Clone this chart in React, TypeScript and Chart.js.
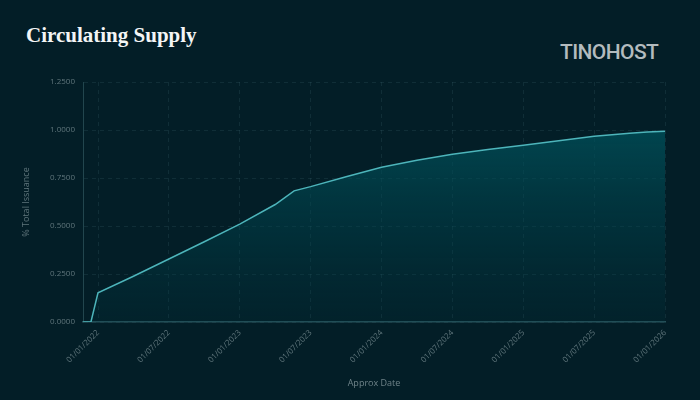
import React, { useEffect, useRef } from "react";
import { Chart, registerables } from "chart.js";

Chart.register(...registerables);

// months since 01/01/2022
const MONTHS = [-1.27, -0.6, 0, 3, 6, 9, 12, 15, 16.6, 18, 21, 24, 27, 30, 33, 36, 39, 42, 45, 46.5, 48];
const SUPPLY = [0, 0, 0.152, 0.238, 0.328, 0.418, 0.51, 0.612, 0.683, 0.705, 0.757, 0.806, 0.842, 0.874, 0.898, 0.921, 0.944, 0.967, 0.983, 0.99, 0.993];

const TICK_MONTHS = [0, 6, 12, 18, 24, 30, 36, 42, 48];
const TICK_LABELS = [
  "01/01/2022",
  "01/07/2022",
  "01/01/2023",
  "01/07/2023",
  "01/01/2024",
  "01/07/2024",
  "01/01/2025",
  "01/07/2025",
  "01/01/2026",
];
const Y_TICKS = [0, 0.25, 0.5, 0.75, 1.0, 1.25];

const BG = "#031e27";

export default function App() {
  const ref = useRef<HTMLCanvasElement | null>(null);

  useEffect(() => {
    if (!ref.current) return;
    const chart = new Chart(ref.current, {
      type: "line",
      data: {
        datasets: [
          {
            label: "% Total Issuance",
            data: MONTHS.map((m, i) => ({ x: m, y: SUPPLY[i] })),
            borderColor: "#4db5bb",
            borderWidth: 1.5,
            pointRadius: 0,
            tension: 0,
            fill: "origin",
            backgroundColor: (ctx: any) => {
              const ca = ctx.chart.chartArea;
              if (!ca) return "rgba(0,80,90,0.6)";
              const g = ctx.chart.ctx.createLinearGradient(0, ca.top, 0, ca.bottom);
              g.addColorStop(0, "rgba(0,92,102,0.85)");
              g.addColorStop(1, "rgba(0,60,70,0.15)");
              return g;
            },
          },
        ],
      },
      options: {
        animation: false,
        responsive: false,
        maintainAspectRatio: false,
        layout: { padding: { top: 82, right: 35, left: 0, bottom: 0 } },
        plugins: {
          legend: { display: false },
          tooltip: { enabled: false },
          title: { display: false },
        },
        scales: {
          x: {
            type: "linear",
            min: -1.27,
            max: 48,
            afterBuildTicks: (s: any) => {
              s.ticks = TICK_MONTHS.map((v) => ({ value: v }));
            },
            afterFit: (s: any) => {
              s.height = 78;
            },
            ticks: {
              autoSkip: false,
              minRotation: 45,
              maxRotation: 45,
              padding: 6,
              color: "#5f757b",
              font: { family: "'Open Sans'", size: 8 },
              callback: (v: any) => {
                const i = TICK_MONTHS.indexOf(Number(v));
                return i >= 0 ? TICK_LABELS[i] : "";
              },
            },
            grid: { color: "rgba(70,110,120,0.2)", drawTicks: false },
            border: { color: "#27515a", width: 1.5, dash: [4, 4] },
            title: {
              display: true,
              text: "Approx Date",
              color: "#6f8389",
              font: { family: "'Open Sans'", size: 9 },
              padding: { top: 0, bottom: 11 },
            },
          },
          y: {
            type: "linear",
            min: 0,
            max: 1.25,
            afterBuildTicks: (s: any) => {
              s.ticks = Y_TICKS.map((v) => ({ value: v }));
            },
            afterFit: (s: any) => {
              s.width = 83;
            },
            ticks: {
              padding: 8,
              color: "#5f757b",
              font: { family: "'Open Sans'", size: 8 },
              callback: (v: any) => Number(v).toFixed(4),
            },
            grid: { color: "rgba(70,110,120,0.2)", drawTicks: false },
            border: { color: "#22464e", width: 1, dash: [4, 4] },
            title: {
              display: true,
              text: "% Total Issuance",
              color: "#5f757b",
              font: { family: "'Open Sans'", size: 9 },
              padding: { top: 21, bottom: 0 },
            },
          },
        },
      },
    } as any);
    return () => chart.destroy();
  }, []);

  return (
    <div
      style={{
        position: "absolute",
        left: 0,
        top: 0,
        width: 700,
        height: 400,
        background: BG,
        overflow: "hidden",
      }}
    >
      <div
        style={{
          position: "absolute",
          left: 26,
          top: 25,
          fontFamily: "'Liberation Serif', serif",
          fontWeight: 700,
          fontSize: 21,
          lineHeight: "21px",
          color: "#f3f5f5",
          whiteSpace: "nowrap",
        }}
      >
        Circulating Supply
      </div>
      <div
        style={{
          position: "absolute",
          left: 560,
          top: 42,
          fontFamily: "Roboto, sans-serif",
          fontWeight: 500,
          fontSize: 21,
          lineHeight: "21px",
          letterSpacing: -0.6,
          color: "#b3bbbe",
          whiteSpace: "nowrap",
        }}
      >
        TINOHOST
      </div>
      <canvas ref={ref} width={700} height={400} style={{ position: "absolute", left: 0, top: 0 }} />
    </div>
  );
}
